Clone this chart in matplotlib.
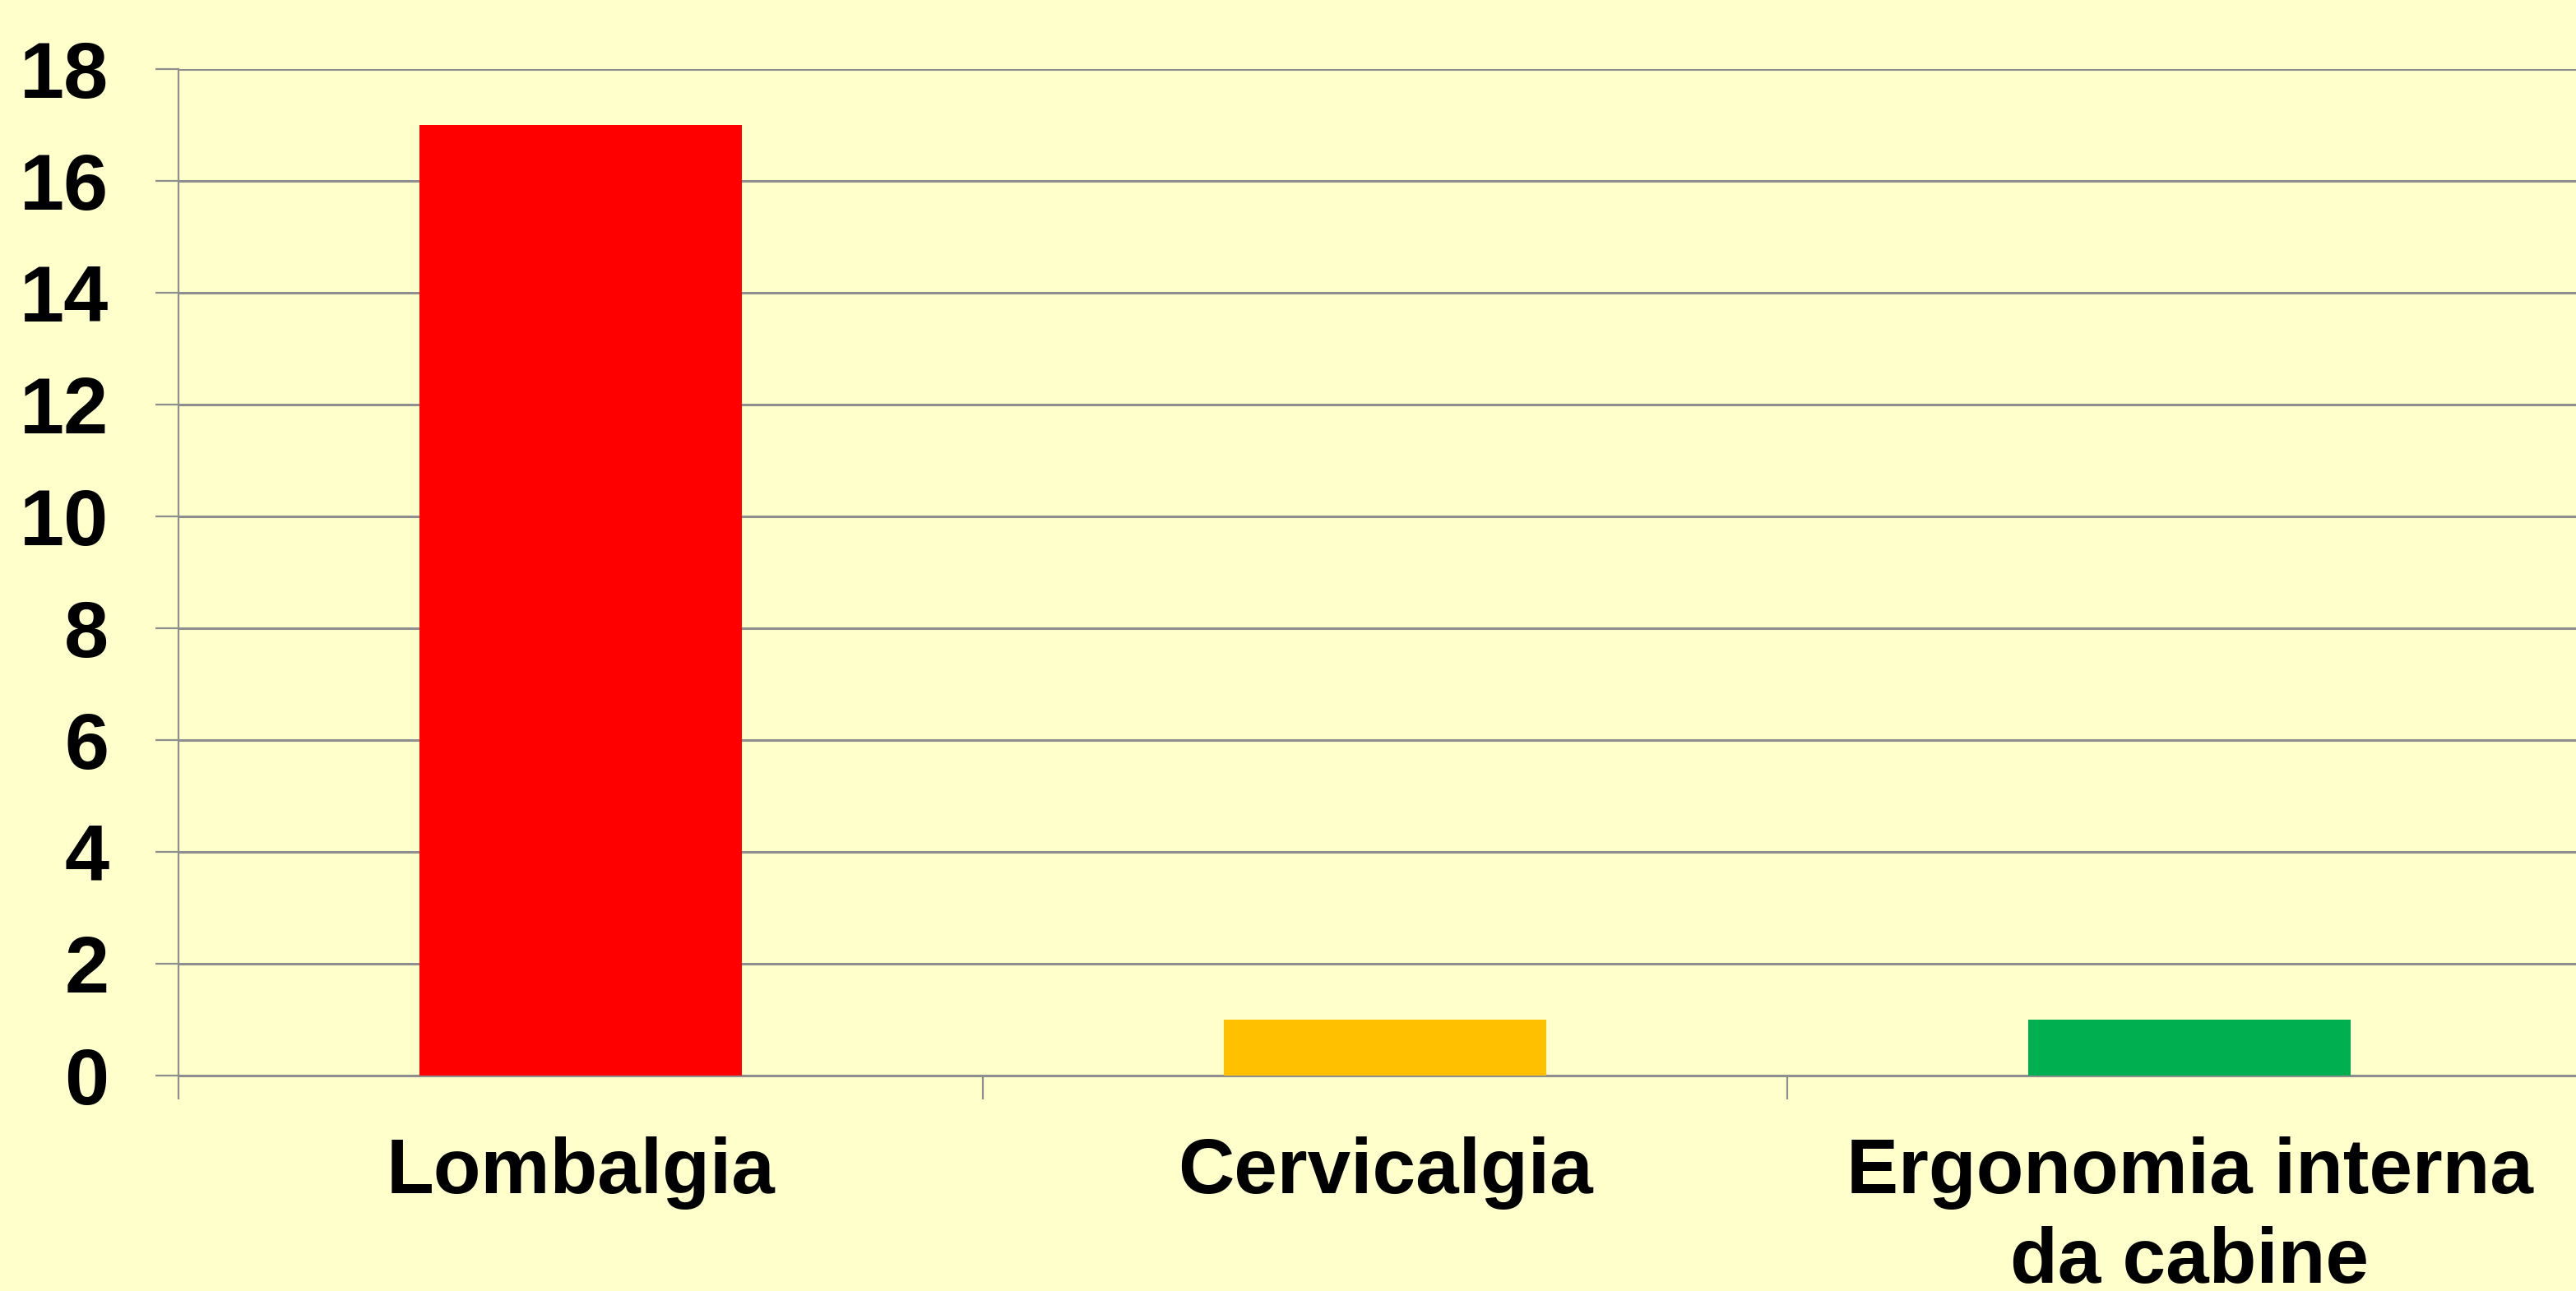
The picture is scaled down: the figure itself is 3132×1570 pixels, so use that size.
import matplotlib
matplotlib.use("Agg")
import matplotlib.pyplot as plt
import numpy as np

categories = ["Lombalgia", "Cervicalgia", "Ergonomia interna\nda cabine"]
values = [17, 1, 1]
colors = ["#FF0000", "#FFC000", "#00B050"]
yticks = [0, 2, 4, 6, 8, 10, 12, 14, 16, 18]

bg = "#FFFFCC"
grid_col = "#8E8E8E"

plt.rcParams["font.family"] = ["Liberation Sans", "DejaVu Sans"]
plt.rcParams["font.weight"] = "bold"

W, H = 3132, 1570
fig = plt.figure(figsize=(W / 100, H / 100), dpi=100, facecolor=bg)
# axis spans past the right edge, like the cropped original
ax = fig.add_axes([217 / W, 1 - 1308 / H, (3151 - 217) / W, (1308 - 84) / H])
ax.set_facecolor(bg)

x = np.arange(len(categories)) + 0.5
ax.bar(x, values, width=0.4, color=colors, zorder=3)

ax.set_xlim(0, len(categories))
ax.set_ylim(0, 18)
ax.set_yticks(yticks)
ax.set_yticklabels([str(v) for v in yticks], fontsize=70, fontweight="bold")
ax.set_xticks(x)
ax.set_xticklabels(categories, fontsize=68, fontweight="bold", linespacing=1.3)
ax.set_xticks(np.arange(len(categories) + 1), minor=True)

ax.yaxis.grid(True, color=grid_col, linewidth=2.2, zorder=0)
ax.tick_params(axis="y", direction="out", length=20, width=1.6, color=grid_col, pad=41)
ax.tick_params(axis="x", which="major", length=0, pad=53)
ax.tick_params(axis="x", which="minor", direction="out", length=21, width=1.6, color=grid_col)

for s in ["top", "right"]:
    ax.spines[s].set_visible(False)
for s in ["left", "bottom"]:
    ax.spines[s].set_color(grid_col)
ax.spines["left"].set_linewidth(1.6)
ax.spines["bottom"].set_linewidth(2.2)

fig.savefig("out.png", dpi=100, facecolor=bg)
